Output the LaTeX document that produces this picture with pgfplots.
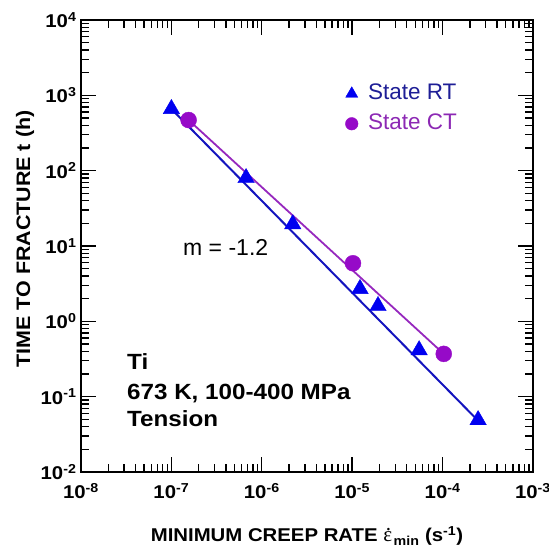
\documentclass[border=0pt]{standalone}
\usepackage{fontspec}
\setmainfont{Liberation Sans}[BoldFeatures={FakeStretch=1.1}]
\newfontfamily\greekserif{Liberation Serif}
\usepackage{pgfplots}
\pgfplotsset{compat=1.18}

\definecolor{rtblue}{RGB}{0,0,240}
\definecolor{rtline}{RGB}{20,20,190}
\definecolor{rttext}{RGB}{30,30,150}
\definecolor{ctpurple}{RGB}{150,10,200}
\definecolor{ctline}{RGB}{150,40,190}
\definecolor{cttext}{RGB}{140,40,180}

% strain-rate symbol: epsilon with a dot set above it
\newcommand{\epsdot}{{\greekserif\mdseries\fontsize{21}{22}\selectfont
  \rlap{\kern2.5pt\raisebox{11pt}{.}}ε}}

\begin{document}
\begin{tikzpicture}
\begin{axis}[
  scale only axis, width=452pt, height=452pt,
  xmode=log, ymode=log,
  xmin=1e-8, xmax=1e-3, ymin=1e-2, ymax=1e4,
  axis line style={line width=1.6pt},
  every tick/.style={line width=1.4pt, black},
  major tick length=15pt, minor tick length=8pt,
  tick align=inside,
  xtick={1e-8,1e-7,1e-6,1e-5,1e-4,1e-3},
  xticklabels={10\textsuperscript{-8},10\textsuperscript{-7},10\textsuperscript{-6},10\textsuperscript{-5},10\textsuperscript{-4},10\textsuperscript{-3}},
  minor xtick={2e-8,3e-8,4e-8,5e-8,6e-8,7e-8,8e-8,9e-8,
               2e-7,3e-7,4e-7,5e-7,6e-7,7e-7,8e-7,9e-7,
               2e-6,3e-6,4e-6,5e-6,6e-6,7e-6,8e-6,9e-6,
               2e-5,3e-5,4e-5,5e-5,6e-5,7e-5,8e-5,9e-5,
               2e-4,3e-4,4e-4,5e-4,6e-4,7e-4,8e-4,9e-4},
  ytick={1e-2,1e-1,1,10,100,1000,10000},
  yticklabels={10\textsuperscript{-2},10\textsuperscript{-1},10\textsuperscript{0},10\textsuperscript{1},10\textsuperscript{2},10\textsuperscript{3},10\textsuperscript{4}},
  minor ytick={0.02,0.03,0.04,0.05,0.06,0.07,0.08,0.09,
               0.2,0.3,0.4,0.5,0.6,0.7,0.8,0.9,
               2,3,4,5,6,7,8,9,
               20,30,40,50,60,70,80,90,
               200,300,400,500,600,700,800,900,
               2000,3000,4000,5000,6000,7000,8000,9000},
  tick label style={font=\fontsize{18.5}{20}\selectfont\bfseries},
  xticklabel style={yshift=-8pt},
  yticklabel style={xshift=-1pt},
  xlabel={MINIMUM CREEP RATE \epsdot\kern1.5pt\textsubscript{min} (s\textsuperscript{-1})},
  ylabel={TIME TO FRACTURE t (h)},
  xlabel style={font=\fontsize{18.5}{20}\selectfont\bfseries,
    at={(rel axis cs:0.5,0)}, anchor=center, yshift=-64pt},
  ylabel style={font=\fontsize{19.5}{21}\selectfont\bfseries,
    at={(rel axis cs:0,0.5)}, anchor=center, yshift=56pt, xshift=7pt},
  legend cell align=left,
  legend style={draw=none, fill=none,
    at={(rel axis cs:0.578,0.866)}, anchor=north west,
    font=\fontsize{22.5}{24}\selectfont,
    nodes={inner sep=1pt, text height=16pt, text depth=4pt},
    row sep=8pt,
    /tikz/every odd column/.append style={column sep=9pt}},
  legend image code/.code={\draw[#1] plot coordinates {(0pt,0pt)};},
]
% fitted power-law lines
\addplot[rtline, line width=2pt, forget plot] coordinates {(1.0e-7,660) (2.47e-4,0.048)};
\addplot[ctline, line width=1.8pt, forget plot] coordinates {(1.55e-7,470) (1.03e-4,0.37)};

% state RT
\addplot[only marks, mark=triangle*, mark size=9.5pt, rtblue,
  mark options={fill=rtblue, draw=rtblue},
  legend image post style={mark size=7pt}] coordinates {
  (1.0e-7,660) (6.7e-7,80) (2.2e-6,19.5) (1.22e-5,2.7)
  (1.93e-5,1.6) (5.5e-5,0.415) (2.47e-4,0.049)};
\addlegendentry{\textcolor{rttext}{State RT}}

% state CT
\addplot[only marks, mark=*, mark size=8pt, ctpurple,
  mark options={fill=ctpurple, draw=ctpurple},
  legend image post style={mark size=6.3pt}] coordinates {
  (1.55e-7,470) (1.02e-5,5.9) (1.03e-4,0.37)};
\addlegendentry{\textcolor{cttext}{State CT}}

\node[anchor=base west, font=\fontsize{23}{24}\selectfont, inner sep=0pt]
  at (rel axis cs:0.2257,0.478) {m = -1.2};
\node[anchor=base west, font=\fontsize{22}{24}\selectfont\bfseries, inner sep=0pt]
  at (rel axis cs:0.1018,0.2257) {Ti};
\node[anchor=base west, font=\fontsize{22}{24}\selectfont\bfseries, inner sep=0pt]
  at (rel axis cs:0.1018,0.1615) {673 K, 100-400 MPa};
\node[anchor=base west, font=\fontsize{22}{24}\selectfont\bfseries, inner sep=0pt]
  at (rel axis cs:0.1018,0.0996) {Tension};

\coordinate (sw) at (rel axis cs:0,0);
\coordinate (ne) at (rel axis cs:1,1);
\end{axis}
\pgfresetboundingbox
\path[use as bounding box] ([shift={(-81pt,-75pt)}]sw) rectangle ([shift={(16pt,20pt)}]ne);
\end{tikzpicture}
\end{document}
